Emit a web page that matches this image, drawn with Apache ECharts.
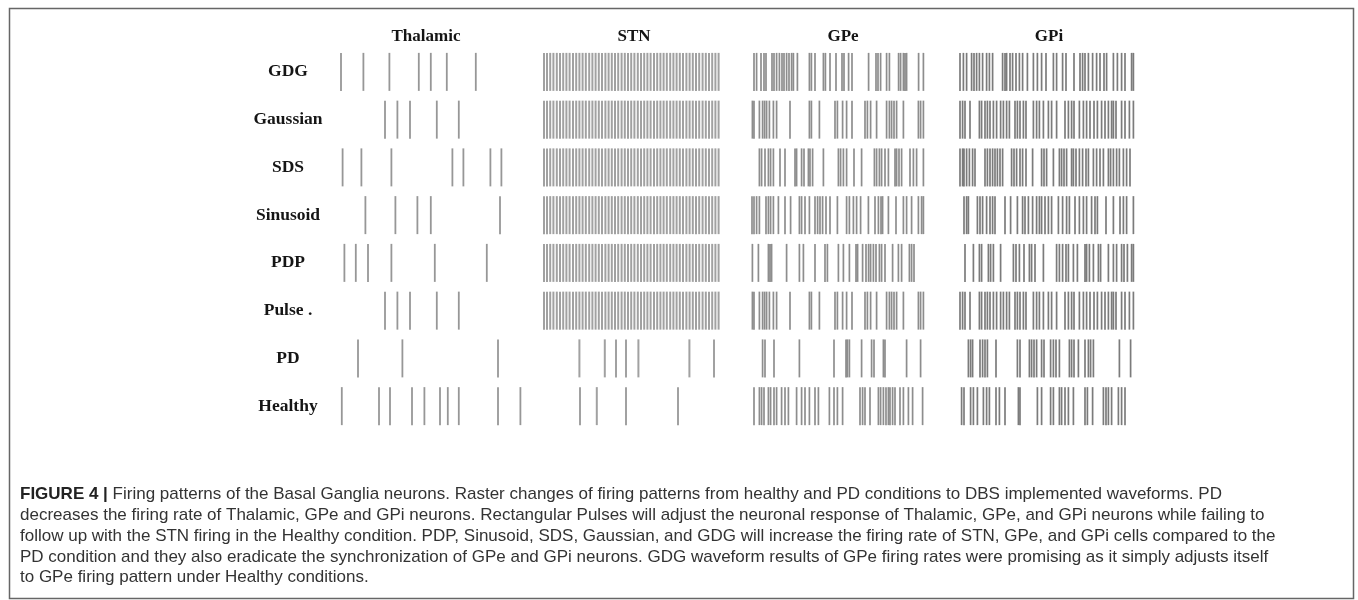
<!DOCTYPE html>
<html>
<head>
<meta charset="utf-8">
<title>Firing patterns of the Basal Ganglia neurons</title>
<script src="https://cdn.jsdelivr.net/npm/echarts@6/dist/echarts.min.js"></script>
<style>
  html, body { margin: 0; padding: 0; background: #fff; }
  #chart { width: 1358px; height: 600px; }
</style>
</head>
<body>
<div id="chart"></div>
<script>
// spike times in ms (each panel shows 0-1000 ms)
var rows = ['GDG', 'Gaussian', 'SDS', 'Sinusoid', 'PDP', 'Pulse .', 'PD', 'Healthy']
var columns = ['Thalamic', 'STN', 'GPe', 'GPi']

var thalamicGdg = [30, 142, 272, 419, 479, 559, 704]
var thalamicGaussian = [250, 312, 375, 509, 619]
var thalamicSds = [38, 132, 282, 587, 642, 777, 832]
var thalamicSinusoid = [152, 302, 412, 479, 825]
var thalamicPdp = [47, 104, 165, 282, 499, 759]
var thalamicPulse = [250, 312, 375, 509, 619]
var thalamicPd = [115, 337, 815]
var thalamicHealthy = [34, 220, 275, 385, 447, 525, 564, 619, 815, 927]

// STN fires the same dense train under every DBS waveform
var stnDbs = [5, 20, 36, 52, 69, 85, 101, 117, 133, 150, 166, 182, 198, 214, 231, 247, 263, 279, 295,
  312, 328, 344, 360, 376, 393, 409, 425, 441, 457, 474, 490, 506, 522, 538, 555, 571, 587, 603,
  619, 636, 652, 668, 684, 700, 717, 733, 749, 765, 781, 798, 814, 830, 846, 862, 878]
var stnPd = [182, 309, 365, 415, 477, 732, 855]
var stnHealthy = [185, 269, 415, 675]

var gpeGdg = [10, 23, 45, 60, 70, 100, 110, 123, 137, 150, 160, 173, 185, 198, 207, 227, 287, 297, 315,
  357, 367, 390, 420, 450, 460, 483, 500, 583, 620, 630, 643, 673, 687, 733, 743, 757, 765, 773, 833, 857]
var gpeGaussian = [2, 10, 37, 53, 63, 73, 87, 107, 123, 190, 287, 297, 337, 415, 427, 453, 473, 500,
  565, 577, 593, 623, 673, 687, 698, 710, 723, 757, 832, 843, 857]
var gpeSds = [37, 48, 65, 82, 93, 107, 140, 165, 215, 223, 248, 260, 282, 290, 303, 357, 432, 443, 457,
  473, 510, 548, 612, 623, 637, 648, 665, 682, 715, 723, 735, 748, 790, 807, 823, 857]
var gpeSinusoid = [0, 10, 23, 37, 70, 82, 93, 107, 132, 165, 193, 237, 248, 265, 287, 315, 328, 340, 353,
  370, 390, 427, 473, 487, 507, 523, 543, 582, 615, 632, 645, 653, 682, 720, 757, 773, 798, 832, 848, 857]
var gpePdp = [2, 32, 82, 90, 98, 173, 237, 257, 315, 365, 377, 432, 457, 487, 520, 528, 553, 570, 583,
  593, 607, 620, 637, 648, 665, 703, 732, 748, 787, 798, 810]
var gpePulse = [2, 10, 37, 53, 63, 73, 87, 107, 123, 190, 287, 297, 337, 415, 427, 453, 473, 500,
  565, 577, 593, 623, 673, 687, 698, 710, 723, 757, 832, 843, 857]
var gpePd = [53, 65, 110, 237, 410, 470, 477, 487, 548, 598, 610, 657, 665, 773, 843]
var gpeHealthy = [10, 37, 48, 60, 82, 93, 110, 123, 148, 165, 182, 223, 248, 265, 287, 315, 332, 387,
  410, 427, 453, 540, 553, 565, 590, 632, 643, 657, 670, 682, 690, 703, 715, 740, 757, 782, 803, 853]

var gpiGdg = [10, 27, 43, 68, 80, 93, 107, 123, 143, 157, 173, 223, 235, 243, 260, 273, 290, 307, 323,
  347, 377, 397, 418, 440, 477, 493, 523, 540, 580, 610, 623, 635, 652, 673, 693, 710, 730, 743, 777,
  797, 818, 835, 868, 877]
var gpiGaussian = [10, 23, 35, 60, 107, 118, 135, 147, 160, 177, 193, 213, 227, 243, 257, 285, 297, 310,
  327, 340, 377, 393, 407, 427, 452, 468, 493, 535, 552, 568, 580, 607, 627, 643, 660, 680, 697, 718,
  735, 752, 768, 777, 790, 818, 835, 857, 877]
var gpiSds = [10, 23, 30, 43, 57, 73, 85, 135, 147, 160, 173, 185, 197, 210, 223, 268, 280, 293, 310,
  323, 340, 373, 418, 430, 443, 477, 507, 518, 530, 543, 568, 577, 590, 607, 623, 640, 652, 677, 693,
  710, 727, 752, 763, 777, 793, 807, 827, 843, 860]
var gpiSinusoid = [30, 43, 52, 97, 110, 123, 143, 160, 173, 185, 235, 263, 297, 323, 335, 352, 373, 393,
  407, 418, 435, 452, 468, 502, 523, 543, 557, 585, 607, 627, 643, 668, 685, 697, 740, 777, 810, 827,
  843, 877]
var gpiPdp = [35, 77, 107, 118, 152, 163, 177, 213, 277, 290, 307, 330, 357, 368, 385, 427, 493, 507,
  523, 540, 552, 577, 597, 635, 643, 657, 677, 702, 713, 752, 777, 793, 818, 830, 847, 868, 877]
var gpiPulse = [10, 23, 35, 60, 107, 118, 135, 147, 160, 177, 193, 213, 227, 243, 257, 285, 297, 310,
  327, 340, 377, 393, 407, 427, 452, 468, 493, 535, 552, 568, 580, 607, 627, 643, 660, 680, 697, 718,
  735, 752, 768, 777, 790, 818, 835, 857, 877]
var gpiPd = [52, 63, 73, 110, 123, 135, 147, 190, 297, 310, 357, 368, 380, 393, 418, 430, 463, 477, 490,
  507, 557, 568, 580, 602, 635, 652, 663, 677, 807, 863]
var gpiHealthy = [18, 30, 63, 77, 97, 127, 143, 157, 190, 207, 235, 302, 310, 397, 418, 463, 477, 507,
  518, 535, 552, 577, 635, 647, 673, 727, 740, 752, 768, 802, 818, 835]

var captionLines = [
  '{b|FIGURE 4 |} Firing patterns of the Basal Ganglia neurons. Raster changes of firing patterns from healthy and PD conditions to DBS implemented waveforms. PD',
  'decreases the firing rate of Thalamic, GPe and GPi neurons. Rectangular Pulses will adjust the neuronal response of Thalamic, GPe, and GPi neurons while failing to',
  'follow up with the STN firing in the Healthy condition. PDP, Sinusoid, SDS, Gaussian, and GDG will increase the firing rate of STN, GPe, and GPi cells compared to the',
  'PD condition and they also eradicate the synchronization of GPe and GPi neurons. GDG waveform results of GPe firing rates were promising as it simply adjusts itself',
  'to GPe firing pattern under Healthy conditions.'
]

var panels = [
  [thalamicGdg, thalamicGaussian, thalamicSds, thalamicSinusoid, thalamicPdp, thalamicPulse, thalamicPd, thalamicHealthy],
  [stnDbs, stnDbs, stnDbs, stnDbs, stnDbs, stnDbs, stnPd, stnHealthy],
  [gpeGdg, gpeGaussian, gpeSds, gpeSinusoid, gpePdp, gpePulse, gpePd, gpeHealthy],
  [gpiGdg, gpiGaussian, gpiSds, gpiSinusoid, gpiPdp, gpiPulse, gpiPd, gpiHealthy]
]

var chart = echarts.init(document.getElementById('chart'))

var panelLeft = [335, 543, 752, 958]
var panelWidth = 200
var spikeWidth = [1.8, 2, 1.7, 1.7]
var spikeColor = ['#7d7d7d', '#8a8a8a', '#707070', '#5a5a5a']
var serif = '"Liberation Serif", "Times New Roman", serif'
var narrow = '"Liberation Sans Narrow", "Arial Narrow", "Liberation Sans", sans-serif'

var grids = []
var xAxes = []
var yAxes = []
var series = []
var titles = []
for (var c = 0; c < columns.length; c++) {
  grids.push({ left: panelLeft[c], width: panelWidth, top: 48, height: 382 })
  xAxes.push({
    gridIndex: c, type: 'value', min: 0, max: 1000,
    show: false
  })
  yAxes.push({
    gridIndex: c, type: 'category', data: rows, inverse: true,
    axisLine: { show: false }, axisTick: { show: false }, splitLine: { show: false },
    axisLabel: {
      show: c === 0, align: 'center', margin: 47,
      fontFamily: serif, fontWeight: 'bold', fontSize: 17.5, color: '#151515'
    }
  })
  var data = []
  for (var r = 0; r < rows.length; r++) {
    for (var k = 0; k < panels[c][r].length; k++) {
      data.push([panels[c][r][k], rows[r]])
    }
  }
  series.push({
    type: 'scatter', xAxisIndex: c, yAxisIndex: c,
    symbol: 'rect', symbolSize: [spikeWidth[c], 38],
    itemStyle: { color: spikeColor[c] },
    silent: true,
    data: data
  })
  titles.push({
    text: columns[c], left: panelLeft[c] + 86, top: 23, textAlign: 'center',
    textStyle: { fontFamily: serif, fontWeight: 'bold', fontSize: 17, color: '#151515' }
  })
}

var graphics = [{
  type: 'rect', left: 7, top: 6, silent: true,
  shape: { width: 1344, height: 590 },
  style: { fill: null, stroke: '#666', lineWidth: 1.5 }
}]
for (var i = 0; i < captionLines.length; i++) {
  graphics.push({
    type: 'text', left: 20, top: 486 + i * 20.8, silent: true,
    style: {
      text: captionLines[i],
      font: '17px ' + narrow,
      fill: '#333',
      rich: {
        b: { fontWeight: 'bold', fontFamily: narrow, fontSize: 17, fill: '#222' }
      }
    }
  })
}

chart.setOption({
  animation: false,
  title: titles,
  grid: grids,
  xAxis: xAxes,
  yAxis: yAxes,
  series: series,
  graphic: graphics
})
</script>
</body>
</html>
